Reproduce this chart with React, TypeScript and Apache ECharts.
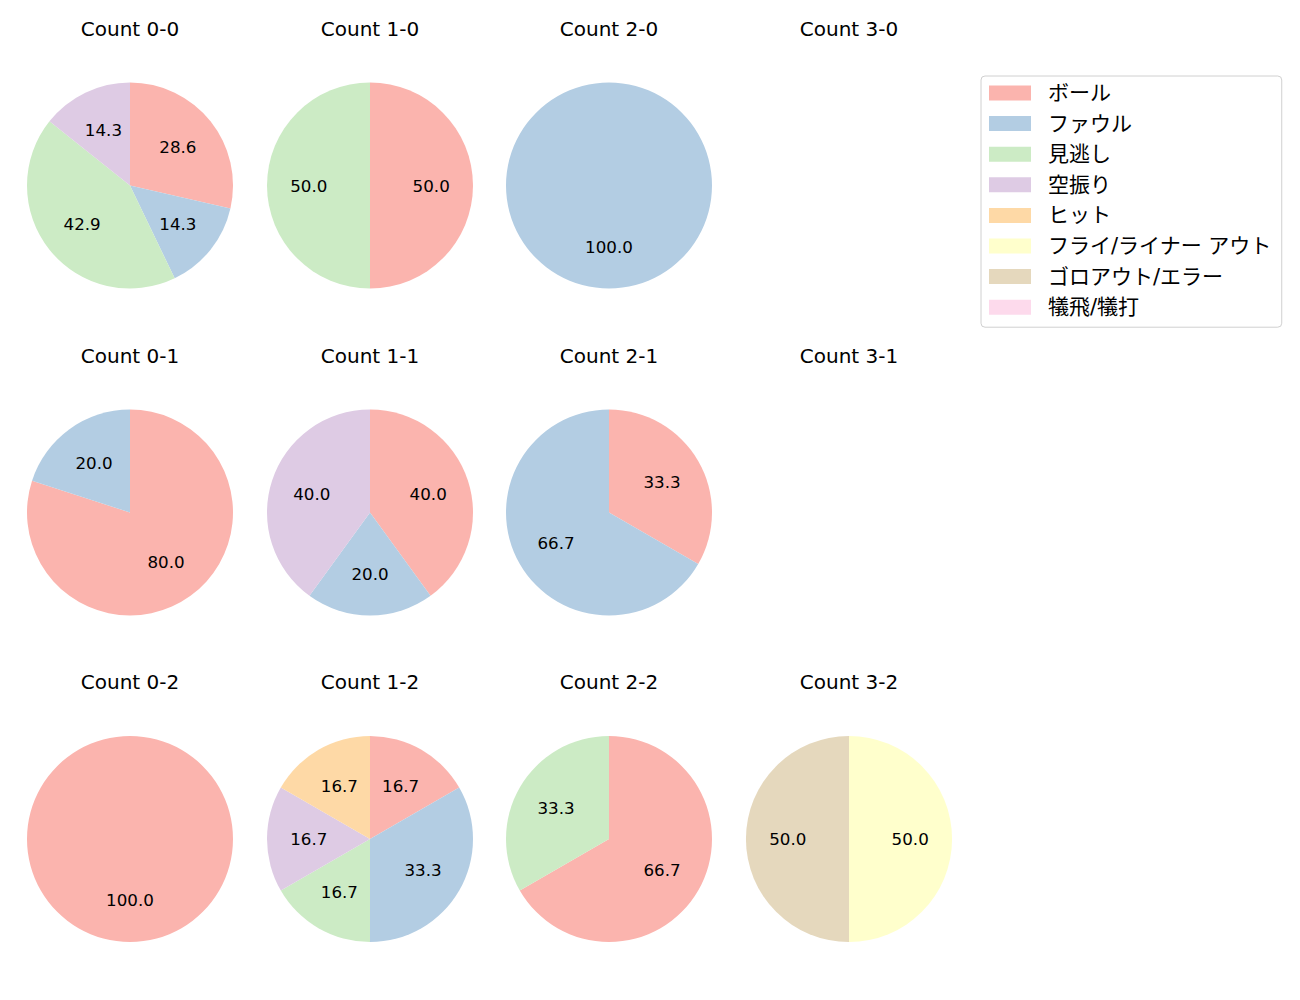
import React, { useEffect, useRef } from "react";
import * as echarts from "echarts";

const categories = [
  "ボール",
  "ファウル",
  "見逃し",
  "空振り",
  "ヒット",
  "フライ/ライナー アウト",
  "ゴロアウト/エラー",
  "犠飛/犠打",
];
const colors = ["#fbb4ae", "#b3cde3", "#ccebc5", "#decbe4", "#fed9a6", "#ffffcc", "#e5d8bd", "#fddaec"];

// counts per category, in category order
const count00 = [2, 1, 3, 1, 0, 0, 0, 0];
const count10 = [1, 0, 1, 0, 0, 0, 0, 0];
const count20 = [0, 1, 0, 0, 0, 0, 0, 0];
const count30: number[] = [];
const count01 = [4, 1, 0, 0, 0, 0, 0, 0];
const count11 = [2, 1, 0, 2, 0, 0, 0, 0];
const count21 = [1, 2, 0, 0, 0, 0, 0, 0];
const count31: number[] = [];
const count02 = [1, 0, 0, 0, 0, 0, 0, 0];
const count12 = [1, 2, 1, 1, 1, 0, 0, 0];
const count22 = [2, 0, 1, 0, 0, 0, 0, 0];
const count32 = [0, 0, 0, 0, 0, 1, 1, 0];

const panelTitles = [
  ["Count 0-0", "Count 1-0", "Count 2-0", "Count 3-0"],
  ["Count 0-1", "Count 1-1", "Count 2-1", "Count 3-1"],
  ["Count 0-2", "Count 1-2", "Count 2-2", "Count 3-2"],
];
const panelValues = [
  [count00, count10, count20, count30],
  [count01, count11, count21, count31],
  [count02, count12, count22, count32],
];

const colX = [130, 370, 609, 849];
const rowY = [185.5, 512.5, 839];
const titleY = [29, 356, 682];
const R = 103;
const FONT = "'DejaVu Sans', 'Noto Sans CJK JP', sans-serif";

export default function App() {
  const ref = useRef<HTMLDivElement>(null);
  useEffect(() => {
    document.body.style.margin = "0";
    const chart = echarts.init(ref.current!, null, { renderer: "svg" });
    const titles: any[] = [];
    const series: any[] = [];

    // legend carrier series (invisible)
    series.push({
      type: "pie",
      name: "legend",
      radius: [0, 0],
      center: [-200, -200],
      silent: true,
      label: { show: false },
      labelLine: { show: false },
      data: categories.map((c, i) => ({ name: c, value: 1, itemStyle: { color: colors[i] } })),
    });

    panelTitles.forEach((row, r) => {
      row.forEach((t, c) => {
        titles.push({
          text: t,
          left: colX[c],
          top: titleY[r] - 10,
          textAlign: "center",
          padding: 0,
          textStyle: { fontFamily: FONT, fontSize: 20, fontWeight: "normal", color: "#000" },
        });
        const vals = panelValues[r][c];
        const total = vals.reduce((a, b) => a + b, 0);
        if (total === 0) return;
        const data = categories
          .map((name, i) => ({ name, value: vals[i] || 0, itemStyle: { color: colors[i] } }))
          .filter((d) => d.value > 0);
        series.push({
          type: "pie",
          center: [colX[c], rowY[r]],
          radius: [0, R],
          startAngle: 90,
          clockwise: true,
          silent: true,
          label: { show: false },
          labelLine: { show: false },
          itemStyle: { borderWidth: 0 },
          emphasis: { disabled: true },
          data,
        });
        series.push({
          type: "pie",
          center: [colX[c], rowY[r]],
          radius: [0, R * 1.13],
          startAngle: 90,
          clockwise: true,
          silent: true,
          emphasis: { disabled: true },
          itemStyle: { color: "transparent", borderWidth: 0 },
          labelLine: { show: false },
          label: {
            show: true,
            position: "inside",
            fontFamily: FONT,
            fontSize: 16.7,
            color: "#000",
            padding: [0, 0, 4, 0],
            formatter: (p: any) => ((p.value / total) * 100).toFixed(1),
          },
          data: data.map((d) => ({ name: d.name, value: d.value })),
        });
      });
    });

    chart.setOption({
      animation: false,
      backgroundColor: "#fff",
      title: titles,
      legend: {
        orient: "vertical",
        left: 981,
        top: 76,
        padding: [5, 10, 8, 8],
        itemWidth: 42,
        itemHeight: 15,
        itemGap: 6.6,
        icon: "rect",
        selectedMode: false,
        borderColor: "#d0d0d0",
        borderWidth: 1,
        borderRadius: 4,
        data: categories,
        textStyle: {
          fontFamily: FONT,
          fontSize: 21,
          color: "#000",
          lineHeight: 24,
          padding: [0, 0, 0, 12],
        },
      },
      series,
    });
    return () => chart.dispose();
  }, []);
  return <div ref={ref} style={{ width: 1300, height: 1000 }} />;
}
